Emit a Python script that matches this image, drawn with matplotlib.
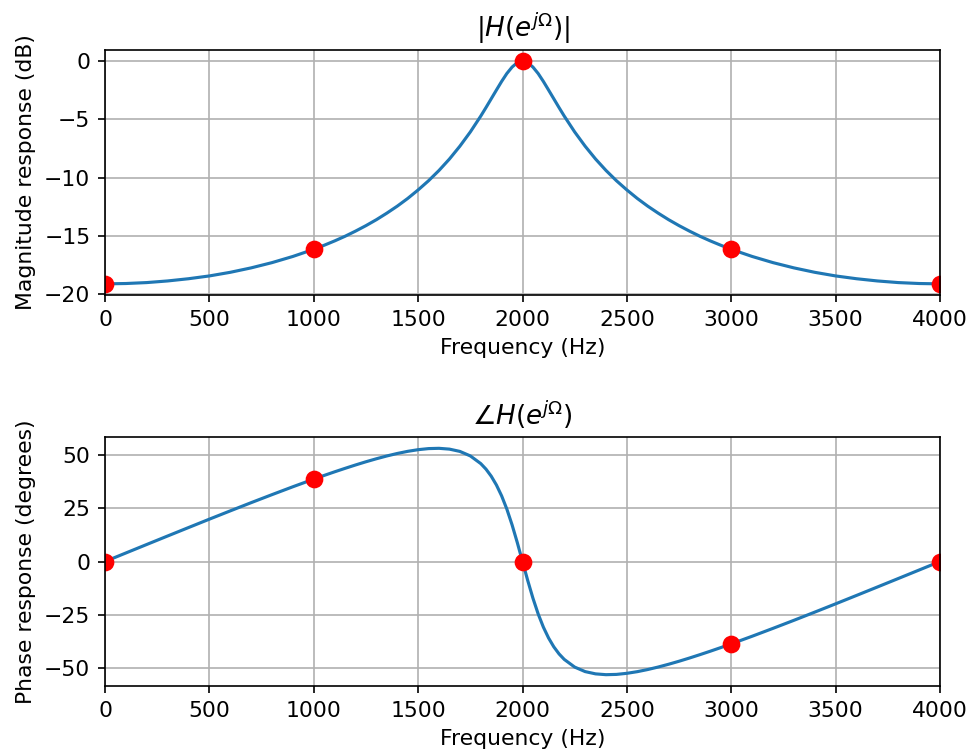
import numpy as np
import matplotlib
matplotlib.use('Agg')
import matplotlib.pyplot as plt

plt.rcParams['font.size'] = 10.5

# frequency grid (Hz), first half; the second half mirrors it around 2000 Hz
freq_half = [0, 100, 200, 300, 400, 500, 600, 700, 800, 900, 1000, 1050,
             1100, 1150, 1200, 1250, 1300, 1350, 1400, 1450, 1500, 1550,
             1600, 1650, 1700, 1750, 1800, 1825, 1850, 1875, 1900, 1925,
             1950, 1975, 2000]

# magnitude response (dB)
mag_half = [-19.09, -19.06, -18.98, -18.84, -18.65, -18.41, -18.10, -17.72,
            -17.27, -16.74, -16.13, -15.78, -15.41, -15.01, -14.57, -14.10,
            -13.59, -13.03, -12.43, -11.77, -11.04, -10.25, -9.37, -8.39,
            -7.29, -6.07, -4.71, -3.98, -3.23, -2.48, -1.74, -1.06, -0.51,
            -0.13, 0.0]

# phase response (degrees)
phase_half = [0.0, 4.00, 7.99, 11.97, 15.93, 19.87, 23.76, 27.61, 31.38,
              35.08, 38.66, 40.40, 42.09, 43.72, 45.30, 46.81, 48.22, 49.53,
              50.70, 51.70, 52.48, 52.99, 53.12, 52.74, 51.67, 49.56, 45.95,
              43.36, 40.06, 35.92, 30.81, 24.59, 17.22, 8.90, 0.0]

freq = freq_half + [4000 - f for f in freq_half[-2::-1]]
mag = mag_half + mag_half[-2::-1]
phase = phase_half + [-p for p in phase_half[-2::-1]]

# sample points marked in red
pt_freq = [0, 1000, 2000, 3000, 4000]
pt_mag = [-19.09, -16.13, 0.0, -16.13, -19.09]
pt_phase = [0.0, 38.66, 0.0, -38.66, 0.0]

fig = plt.figure(figsize=(970 / 150, 755 / 150), dpi=150)
ax1 = fig.add_axes([105 / 970, 1 - 295 / 755, 835 / 970, 245 / 755])
ax2 = fig.add_axes([105 / 970, 1 - 686 / 755, 835 / 970, 249 / 755])

ax1.plot(freq, mag)
ax1.plot(pt_freq, pt_mag, 'ro', markersize=7.5)
ax1.set_xlim(0, 4000)
ax1.set_xlabel('Frequency (Hz)')
ax1.set_ylabel('Magnitude response (dB)')
ax1.set_title(r'$|H(e^{j\Omega})|$')
ax1.grid(True)

ax2.plot(freq, phase)
ax2.plot(pt_freq, pt_phase, 'ro', markersize=7.5)
ax2.set_xlim(0, 4000)
ax2.set_xlabel('Frequency (Hz)')
ax2.set_ylabel('Phase response (degrees)')
ax2.set_title(r'$\angle H(e^{j\Omega})$')
ax2.grid(True)

fig.savefig('out.png', dpi=150)
